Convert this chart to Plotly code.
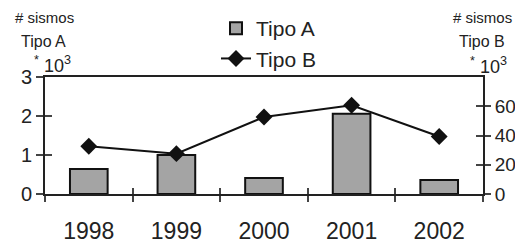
import plotly.graph_objects as go

years = ["1998", "1999", "2000", "2001", "2002"]
tipo_a = [0.64, 1.0, 0.41, 2.06, 0.36]       # * 10^3
tipo_b = [32.6, 27.6, 52.6, 60.7, 39.3]      # * 10^3
left_ticks = [0, 1, 2, 3]
right_ticks = [0, 20, 40, 60]

FONT = "Liberation Sans"
OFF = 8                      # page body margin
W, H = 523 - OFF, 243 - OFF
L, R, T, B = 45 - OFF, 40, 77 - OFF, 49
pw, ph = W - L - R, H - T - B

def px(x):  # screen px -> paper
    return (x - OFF - L) / pw

def py(y):
    return 1 + (T + OFF - y) / ph

fig = go.Figure()
fig.add_trace(go.Bar(
    x=years, y=tipo_a, name="Tipo A", width=0.43,
    marker=dict(color="#a4a4a4", line=dict(color="#111", width=2)),
    yaxis="y",
))
fig.add_trace(go.Scatter(
    x=years, y=tipo_b, name="Tipo B", mode="lines+markers",
    line=dict(color="#111", width=2),
    marker=dict(symbol="diamond", size=13, color="#111"),
    yaxis="y2",
))

axis_common = dict(showgrid=False, zeroline=False, linecolor="#222", linewidth=2,
                   tickcolor="#444", tickwidth=1.5, automargin=False,
                   ticklabeloverflow="allow")

fig.update_layout(
    width=W, height=H,
    margin=dict(l=L, r=R, t=T, b=B, autoexpand=False),
    paper_bgcolor="white", plot_bgcolor="white",
    font=dict(family=FONT, color="#222"),
    showlegend=True,
    legend=dict(x=px(216), y=py(8), xanchor="left", yanchor="top",
                font=dict(size=21, family=FONT), bgcolor="rgba(0,0,0,0)",
                itemwidth=30, tracegroupgap=0),
    xaxis=dict(type="category", showline=True, mirror=True, ticks="outside",
               tickson="boundaries", ticklen=6, ticklabelstandoff=15,
               tickfont=dict(size=23, family=FONT), **axis_common),
    yaxis=dict(range=[0, 3], tickvals=left_ticks, showline=True, ticks="outside",
               ticklen=7, tickfont=dict(size=20, family=FONT), **axis_common),
    yaxis2=dict(range=[0, 80], tickvals=right_ticks, overlaying="y", side="right",
                showline=True, ticks="outside", ticklen=6,
                tickfont=dict(size=19, family=FONT), **axis_common),
    # inside halves of the crossing ticks
    xaxis2=dict(overlaying="x", range=[-0.5, 4.5], tickvals=[-0.5, 0.5, 1.5, 2.5, 3.5, 4.5],
                ticks="inside", ticklen=6, showticklabels=False, showgrid=False,
                zeroline=False, tickcolor="#444", tickwidth=1.5, anchor="y", side="bottom"),
    yaxis3=dict(overlaying="y", range=[0, 3], tickvals=left_ticks, ticks="inside",
                ticklen=7, showticklabels=False, showgrid=False, zeroline=False,
                tickcolor="#444", tickwidth=1.5, anchor="x", side="left"),
    yaxis4=dict(overlaying="y", range=[0, 80], tickvals=right_ticks, ticks="inside",
                ticklen=7, showticklabels=False, showgrid=False, zeroline=False,
                tickcolor="#444", tickwidth=1.5, anchor="x", side="right"),
)

# invisible traces to activate the overlay axes
fig.add_trace(go.Scatter(x=[None], y=[None], xaxis="x2", yaxis="y3", showlegend=False, hoverinfo="skip"))
fig.add_trace(go.Scatter(x=[None], y=[None], xaxis="x", yaxis="y4", showlegend=False, hoverinfo="skip"))

ann = [
    ("# sismos", 44, 17, 15),
    ("Tipo A", 43, 41, 16),
    ("<sup>*</sup> 10<sup>3</sup>", 52, 65, 18),
    ("# sismos", 482, 17, 15),
    ("Tipo B", 482, 41, 16),
    ("<sup>*</sup> 10<sup>3</sup>", 488, 66, 18),
]
for text, x, y, s in ann:
    fig.add_annotation(text=text, x=px(x), y=py(y), xref="paper", yref="paper",
                       showarrow=False, xanchor="center", yanchor="middle",
                       font=dict(size=s, family=FONT, color="#222"))

fig.write_html("out.html")
